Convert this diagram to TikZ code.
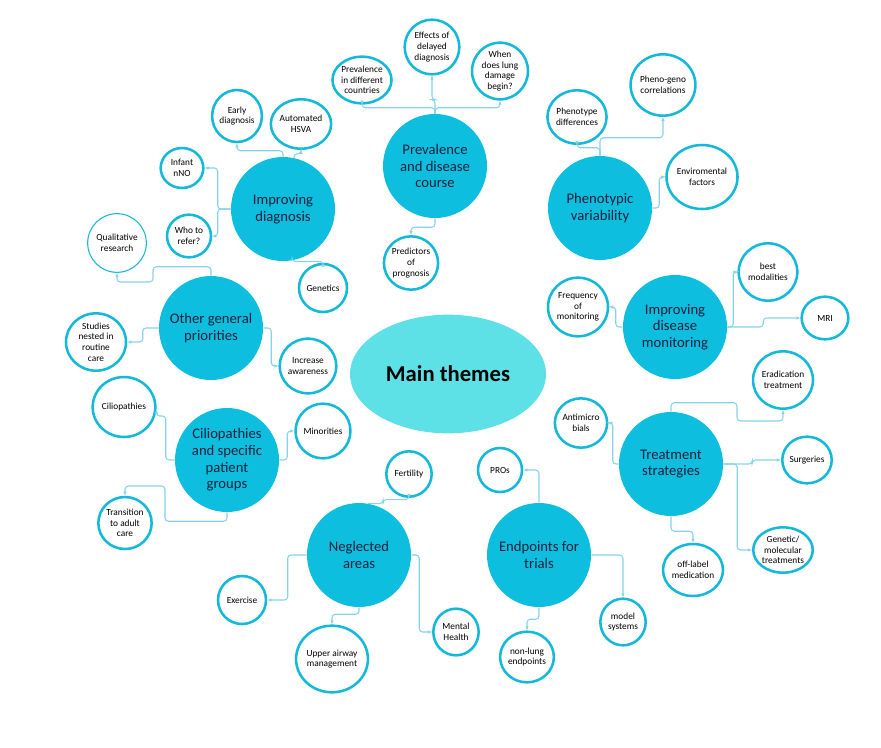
\documentclass[tikz,border=0pt]{standalone}
\usepackage{fontspec}
\setmainfont{Carlito}
\usetikzlibrary{positioning, arrows.meta, shapes.geometric}
\definecolor{themefill}{HTML}{0EBEDF}
\definecolor{corefill}{HTML}{5DE1E6}
\definecolor{ringcol}{HTML}{14B8D9}
\definecolor{linkcol}{HTML}{86D3EA}
\definecolor{ink}{HTML}{14213D}

\begin{document}
\begin{tikzpicture}[x=0.75pt, y=-0.75pt,
	theme/.style={circle, fill=themefill, minimum size=78pt, inner sep=0pt, align=center, 
	text=ink, font=\fontsize{11}{12.5}\selectfont},
	leaf/.style={ellipse, draw=ringcol, line width=1.9pt, fill=white, inner sep=0pt, 
	align=center, font=\fontsize{7}{8}\selectfont},
	link/.style={draw=linkcol, line width=0.8pt, rounded corners=2.5pt, 
	-{Latex[length=3pt,width=2.6pt]}}]
		\useasboundingbox (0,0) rectangle (881,747);
		
		%Centre of the map
		\node (main) at (448,374) [ellipse, fill=corefill, minimum width=147pt, minimum 
		height=89pt, font=\fontsize{17}{20}\selectfont\bfseries]{Main themes};
		
		%Themes
		\node (diag) at (283,209) [theme]{Improving\\diagnosis};
		\node (prev) at (435,166) [theme]{Prevalence\\and disease\\course};
		\node (pheno) at (600,208) [theme]{Phenotypic\\variability};
		\node (monit) at (675,327) [theme]{Improving\\disease\\monitoring};
		\node (treat) at (671,464) [theme]{Treatment\\strategies};
		\node (endp) at (539,555) [theme]{Endpoints for\\trials};
		\node (negl) at (359,555) [theme]{Neglected\\areas};
		\node (cilio) at (227,460) [theme]{Ciliopathies\\and specific\\patient\\groups};
		\node (other) at (211,328) [theme]{Other general\\priorities};
		
		%Improving diagnosis
		\node (early) at (237,116) [leaf, minimum width=37pt, minimum height=39pt]{Early\\diagnosis};
		\node (hsva) at (301,124) [leaf, minimum width=44pt, minimum height=37pt]{Automated\\HSVA};
		\node (nno) at (182,168) [leaf, minimum width=32pt, minimum height=30pt]{Infant\\nNO};
		\node (refer) at (189,236) [leaf, minimum width=33pt, minimum height=32pt]{Who to\\refer?};
		\node (genet) at (323,288) [leaf, minimum width=36pt, minimum height=36pt]{Genetics};
		
		%Prevalence and disease course
		\node (countries) at (362,80) [leaf, minimum width=44pt, minimum height=35pt]{Prevalence\\in different\\countries};
		\node (effects) at (432,47) [leaf, minimum width=41pt, minimum height=41pt]{Effects of\\delayed\\diagnosis};
		\node (when) at (500,71) [leaf, minimum width=42pt, minimum height=42pt]{When\\does lung\\damage\\begin?};
		\node (predict) at (411,263) [leaf, minimum width=40pt, minimum height=40pt]{Predictors\\of\\prognosis};
		
		%Phenotypic variability
		\node (phdiff) at (577,117) [leaf, minimum width=43pt, minimum height=40pt]{Phenotype\\differences};
		\node (phgeno) at (663,85) [leaf, minimum width=45pt, minimum height=46pt]{Pheno-geno\\correlations};
		\node (envir) at (702,177) [leaf, minimum width=50pt, minimum height=48pt]{Enviromental\\factors};
		
		%Improving disease monitoring
		\node (freq) at (578,307) [leaf, minimum width=45pt, minimum height=44pt]{Frequency\\of\\monitoring};
		\node (bestmod) at (768,272) [leaf, minimum width=44pt, minimum height=43pt]{best\\modalities};
		\node (mri) at (825,318) [leaf, minimum width=35pt, minimum height=32pt]{MRI};
		
		%Treatment strategies
		\node (erad) at (783,380) [leaf, minimum width=44pt, minimum height=43pt]{Eradication\\treatment};
		\node (antimic) at (581,423) [leaf, minimum width=37pt, minimum height=37pt]{Antimicro\\bials};
		\node (surg) at (807,460) [leaf, minimum width=36pt, minimum height=35pt]{Surgeries};
		\node (genmol) at (783,550) [leaf, minimum width=44pt, minimum height=34pt]{Genetic/\\molecular\\treatments};
		\node (offlab) at (693,570) [leaf, minimum width=42pt, minimum height=39pt]{off-label\\medication};
		
		%Endpoints for trials
		\node (pros) at (500,470) [leaf, minimum width=33pt, minimum height=33pt]{PROs};
		\node (models) at (623,622) [leaf, minimum width=34pt, minimum height=35pt]{model\\systems};
		\node (nonlung) at (527,657) [leaf, minimum width=39pt, minimum height=38pt]{non-lung\\endpoints};
		
		%Neglected areas
		\node (fert) at (409,474) [leaf, minimum width=34pt, minimum height=34pt]{Fertility};
		\node (exerc) at (242,600) [leaf, minimum width=36pt, minimum height=36pt]{Exercise};
		\node (upper) at (332,659) [leaf, minimum width=50pt, minimum height=50pt]{Upper airway\\management};
		\node (mental) at (456,632) [leaf, minimum width=34pt, minimum height=35pt]{Mental\\Health};
		
		%Ciliopathies and specific patient groups
		\node (ciliosm) at (124,407) [leaf, minimum width=47pt, minimum height=45pt]{Ciliopathies};
		\node (minor) at (323,431) [leaf, minimum width=41pt, minimum height=41pt]{Minorities};
		\node (transit) at (125,523) [leaf, minimum width=40pt, minimum height=39pt]{Transition\\to adult\\care};
		
		%Other general priorities
		\node (qual) at (117,243) [leaf, line width=0.8pt, minimum width=44pt, minimum height=44pt]{Qualitative\\research};
		\node (studies) at (96,342) [leaf, minimum width=45pt, minimum height=43pt]{Studies\\nested in\\routine\\care};
		\node (aware) at (308,366) [leaf, minimum width=42pt, minimum height=41pt]{Increase\\awareness};
		
		%Links from the themes
		\draw[link] (diag.north) -- ++(0,-6) -| (early.south);
		\draw[link] (diag.78) -- ++(0,-4) -| (hsva.south);
		\draw[link] (diag.west) -- ++(-13,0) |- (nno.east);
		\draw[link] (diag.west) -- ++(-13,0) |- (refer.east);
		\draw[link] (diag.-80) -- ++(0,1) -| (genet.north);
		
		\draw[link] (prev.north) -- ++(0,-6) -| (countries.south);
		\draw[link] (prev.north) -- ++(0,-14) -| (effects.south);
		\draw[link] (prev.north) -- ++(0,-6) -| (when.south);
		\draw[link] (prev.south) -- ++(0,9) -| (predict.north);
		
		\draw[link] (pheno.north) -- ++(0,-18) -| (phgeno.south);
		\draw[link] (pheno.north) -- ++(0,-8) -| (phdiff.south);
		\draw[link] (pheno.east) -- ++(7,0) |- (envir.west);
		
		\draw[link] (monit.west) -- ++(-7,0) |- (freq.east);
		\draw[link] (monit.east) -- ++(6,0) |- (bestmod.west);
		\draw[link] (monit.east) -- ++(36,0) |- (mri.west);
		
		\draw[link] (treat.north) -- ++(0,-9) -| (737,421) -| (erad.south);
		\draw[link] (treat.west) -- ++(-6,0) |- (antimic.east);
		\draw[link] (treat.east) -- ++(29,0) |- (surg.west);
		\draw[link] (treat.east) -- ++(14,0) |- (genmol.west);
		\draw[link] (treat.south) -- ++(0,15) -| (offlab.north);
		
		\draw[link] (endp.north) |- (pros.east);
		\draw[link] (endp.east) -| (models.north);
		\draw[link] (endp.south) -- ++(0,12) -| (nonlung.north);
		
		\draw[link] (negl.80) -- ++(15,0) -- ++(0,-4) -| (fert.south);
		\draw[link] (negl.west) -- ++(-19,0) |- (exerc.east);
		\draw[link] (negl.south) -- ++(0,7) -| (upper.north);
		\draw[link] (negl.east) -- ++(8,0) |- (mental.west);
		
		\draw[link] (cilio.west) -- ++(-9,0) -- ++(0,-44) -| (ciliosm.-5);
		\draw[link] (cilio.east) -- ++(8,0) |- (minor.west);
		\draw[link] (cilio.south) -- ++(0,9) -| (165,486) -| (transit.north);
		
		\draw[link] (other.north) -- ++(0,-9) -| (153,282) -| (qual.south);
		\draw[link] (other.west) -- ++(-16,0) |- (studies.east);
		\draw[link] (other.east) -- ++(8,0) |- (aware.west);
		
		\end{tikzpicture}
\end{document}
